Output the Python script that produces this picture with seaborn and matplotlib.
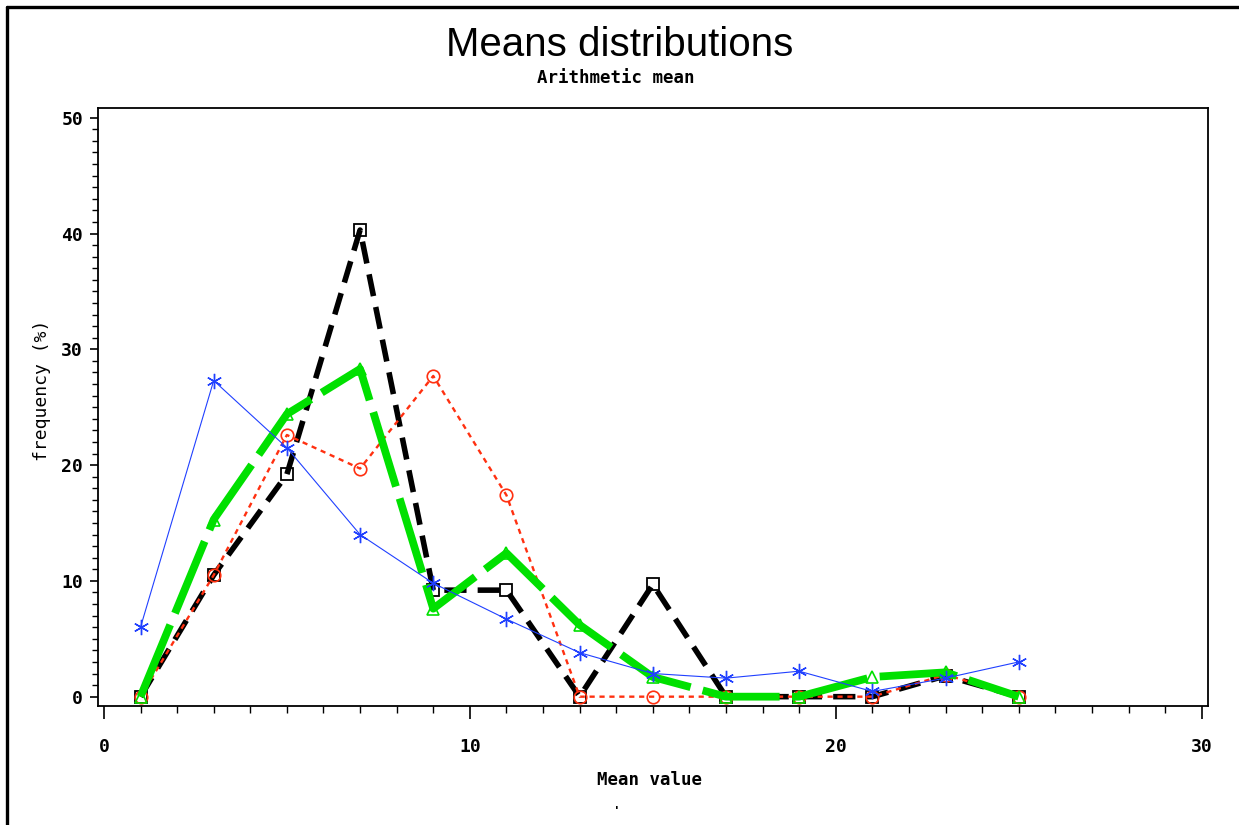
import numpy as np
import pandas as pd
import matplotlib
matplotlib.use("Agg")
import matplotlib.pyplot as plt
import seaborn as sns
from matplotlib.ticker import MultipleLocator
from matplotlib.lines import Line2D

# mean value classes
mean_value = [1, 3, 5, 7, 9, 11, 13, 15, 17, 19, 21, 23, 25]

# frequency (%) per series
freq_black = [0, 10.5, 19.2, 40.3, 9.2, 9.2, 0, 9.7, 0, 0, 0, 1.8, 0]
freq_red = [0, 10.5, 22.6, 19.7, 27.7, 17.4, 0, 0, 0, 0, 0, 1.9, 0]
freq_green = [0, 15.3, 24.4, 28.3, 7.6, 12.4, 6.2, 1.7, 0, 0, 1.7, 2.1, 0]
freq_blue = [6.0, 27.3, 21.5, 14.0, 9.8, 6.7, 3.8, 2.0, 1.6, 2.2, 0.45, 1.6, 3.0]

df = pd.DataFrame({
    "x": mean_value * 4,
    "y": freq_black + freq_red + freq_green + freq_blue,
    "series": ["black"] * 13 + ["red"] * 13 + ["green"] * 13 + ["blue"] * 13,
})

sns.set_style("ticks")
plt.rcParams["font.family"] = ["DejaVu Sans Mono", "DejaVu Sans"]
plt.rcParams["text.color"] = "black"
plt.rcParams["xtick.color"] = "black"
plt.rcParams["ytick.color"] = "black"
plt.rcParams["axes.edgecolor"] = "black"

fig = plt.figure(figsize=(12.39, 8.25), dpi=100)
ax = fig.add_axes([0.0793, 0.1446, 0.8959, 0.7245])

styles = {
    "black": dict(color="black", linewidth=4.0, dashes=(4, 2.0), marker="s",
                  markersize=9, markerfacecolor="none", markeredgecolor="black",
                  markeredgewidth=1.3),
    "red": dict(color="#ff3010", linewidth=1.7, dashes=(2.2, 2.0), marker="o",
                markersize=9, markerfacecolor="none", markeredgecolor="#ff3010",
                markeredgewidth=1.2),
    "green": dict(color="#00e000", linewidth=5.6, dashes=(10, 1.6), marker="^",
                  markersize=9, markerfacecolor="none", markeredgecolor="#00e000",
                  markeredgewidth=1.2),
    "blue": dict(color="#2040ff", linewidth=0.8, marker=(6, 2, 0),
                 markersize=11, markeredgecolor="#2040ff", markeredgewidth=1.0),
}

for name in ["black", "red", "green", "blue"]:
    sub = df[df["series"] == name]
    sns.lineplot(data=sub, x="x", y="y", ax=ax, legend=False, **styles[name])

ax.set_xlim(-0.155, 30.18)
ax.set_ylim(-0.78, 50.84)
ax.xaxis.set_major_locator(MultipleLocator(10))
ax.xaxis.set_minor_locator(MultipleLocator(1))
ax.yaxis.set_major_locator(MultipleLocator(10))
ax.yaxis.set_minor_locator(MultipleLocator(1))
ax.tick_params(axis="x", which="major", direction="out", length=9, width=1.2,
               pad=14, labelsize=13, color="black", labelcolor="black")
ax.tick_params(axis="x", which="minor", direction="out", length=5, width=1.0)
ax.tick_params(axis="y", which="major", direction="out", length=6, width=1.2,
               pad=5, labelsize=13, color="black", labelcolor="black")
ax.tick_params(axis="y", which="minor", direction="out", length=4, width=1.0)
for lab in ax.get_xticklabels() + ax.get_yticklabels():
    lab.set_fontweight("bold")
for sp in ax.spines.values():
    sp.set_visible(True)
    sp.set_linewidth(1.3)
    sp.set_color("black")
ax.set_xlabel("")
ax.set_ylabel("")

fig.text(0.5004, 0.946, "Means distributions", ha="center", va="center",
         fontsize=29, color="black", family=["Liberation Sans", "DejaVu Sans"])
fig.text(0.497, 0.905, "Arithmetic mean", ha="center", va="center",
         fontsize=12.5, fontweight="bold", color="black")
fig.text(0.5246, 0.0545, "Mean value", ha="center", va="center",
         fontsize=12.5, fontweight="bold", color="black")
fig.text(0.034, 0.527, "frequency (%)", ha="center", va="center",
         rotation=90, fontsize=13, color="black")
fig.text(0.498, 0.016, "'", ha="center", va="center", fontsize=9,
         fontweight="bold", color="black")

# outer frame (top and left only)
fig.add_artist(Line2D([6.5 / 1239, 1.0], [1 - 6.5 / 825, 1 - 6.5 / 825],
                      transform=fig.transFigure, color="black", linewidth=2.4))
fig.add_artist(Line2D([6.5 / 1239, 6.5 / 1239], [0.0, 1 - 6.5 / 825],
                      transform=fig.transFigure, color="black", linewidth=2.4))

fig.savefig("out.png", dpi=100, facecolor="white")
